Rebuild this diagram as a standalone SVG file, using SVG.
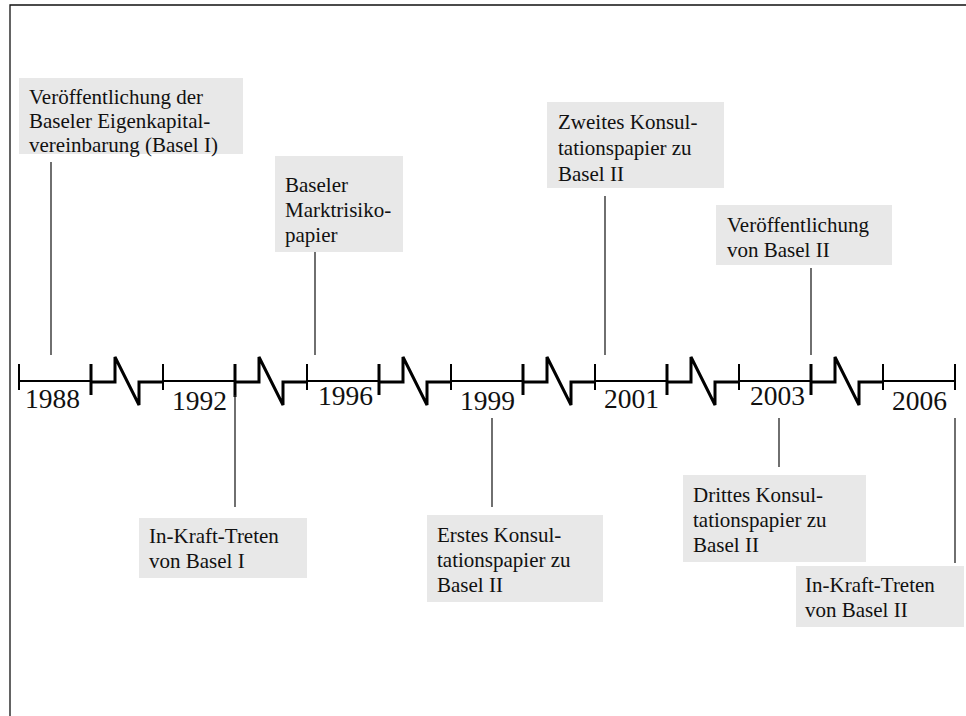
<svg xmlns="http://www.w3.org/2000/svg" width="966" height="716" viewBox="0 0 966 716">
  <defs>
    <style>
      .frame { fill: none; stroke: #111; stroke-width: 1.3; }
      .box { fill: #e8e8e8; stroke: none; }
      .lbl { font-family: "Liberation Serif", "Times New Roman", serif; font-size: 21px; fill: #111; }
      .year { font-family: "Liberation Serif", "Times New Roman", serif; font-size: 27.5px; fill: #111; }
      .axis { fill: none; stroke: #000; stroke-width: 2; }
      .tick { stroke: #000; stroke-width: 2; }
      .tickEnd { stroke: #000; stroke-width: 3; }
      .brk { fill: none; stroke: #000; stroke-width: 3; stroke-linejoin: miter; }
      .conn { stroke: #222; stroke-width: 1.3; }
    </style>
  </defs>
  <rect width="966" height="716" fill="#fff"/>
  <!-- outer frame: top and left edges only -->
  <path class="frame" d="M10 716 V5 H966"/>

  <!-- timeline axis -->
  <g id="axis">
    <g id="segments">
      <line class="axis" x1="19" y1="381" x2="91" y2="381"/>
      <line class="axis" x1="163" y1="381" x2="235" y2="381"/>
      <line class="axis" x1="307" y1="381" x2="379" y2="381"/>
      <line class="axis" x1="451" y1="381" x2="523" y2="381"/>
      <line class="axis" x1="595" y1="381" x2="667" y2="381"/>
      <line class="axis" x1="739" y1="381" x2="811" y2="381"/>
      <line class="axis" x1="883" y1="381" x2="955" y2="381"/>
    </g>
    <g id="ticks">
      <line class="tick" x1="19" y1="364" x2="19" y2="390"/>
      <line class="tick" x1="163" y1="364" x2="163" y2="390"/>
      <line class="tick" x1="307" y1="364" x2="307" y2="390"/>
      <line class="tick" x1="451" y1="364" x2="451" y2="390"/>
      <line class="tick" x1="595" y1="364" x2="595" y2="390"/>
      <line class="tick" x1="739" y1="364" x2="739" y2="390"/>
      <line class="tick" x1="883" y1="364" x2="883" y2="390"/>
      <line class="tickEnd" x1="91" y1="364" x2="91" y2="395"/>
      <line class="tickEnd" x1="235" y1="364" x2="235" y2="397"/>
      <line class="tickEnd" x1="379" y1="364" x2="379" y2="395"/>
      <line class="tickEnd" x1="523" y1="364" x2="523" y2="395"/>
      <line class="tickEnd" x1="667" y1="364" x2="667" y2="395"/>
      <line class="tickEnd" x1="811" y1="364" x2="811" y2="395"/>
      <line class="tick" x1="955" y1="364" x2="955" y2="390"/>
    </g>
    <!-- break symbols between the year segments -->
    <g id="breaks">
      <path class="brk" d="M91 382 H115 V357 L139 405 V382 H163"/>
      <path class="brk" d="M235 382 H259 V357 L283 405 V382 H307"/>
      <path class="brk" d="M379 382 H403 V357 L427 405 V382 H451"/>
      <path class="brk" d="M523 382 H547 V357 L571 405 V382 H595"/>
      <path class="brk" d="M667 382 H691 V357 L715 405 V382 H739"/>
      <path class="brk" d="M811 382 H835 V357 L859 405 V382 H883"/>
    </g>
    <g id="years">
      <text class="year" x="25" y="408">1988</text>
      <text class="year" x="172" y="410">1992</text>
      <text class="year" x="318" y="405">1996</text>
      <text class="year" x="460" y="410">1999</text>
      <text class="year" x="604" y="408">2001</text>
      <text class="year" x="750" y="405">2003</text>
      <text class="year" x="892" y="410">2006</text>
    </g>
  </g>

  <!-- connectors from events to the axis -->
  <g id="connectors">
    <line class="conn" x1="51" y1="162" x2="51" y2="355"/>
    <line class="conn" x1="315" y1="252" x2="315" y2="355"/>
    <line class="conn" x1="605" y1="196" x2="605" y2="355"/>
    <line class="conn" x1="811" y1="268" x2="811" y2="355"/>
    <line class="conn" x1="235" y1="395" x2="235" y2="507"/>
    <line class="conn" x1="492" y1="418" x2="492" y2="507"/>
    <line class="conn" x1="779" y1="418" x2="779" y2="467"/>
    <line class="conn" x1="955" y1="418" x2="955" y2="563"/>
  </g>

  <!-- event boxes above the axis -->
  <g id="ev1988">
    <rect class="box" x="19" y="78" width="224" height="76"/>
    <text class="lbl" x="29" y="104">Veröffentlichung der</text>
    <text class="lbl" x="29" y="128">Baseler Eigenkapital-</text>
    <text class="lbl" x="29" y="152">vereinbarung (Basel I)</text>
  </g>
  <g id="ev1996">
    <rect class="box" x="275" y="156" width="128" height="96"/>
    <text class="lbl" x="285" y="192">Baseler</text>
    <text class="lbl" x="285" y="217">Marktrisiko-</text>
    <text class="lbl" x="285" y="242">papier</text>
  </g>
  <g id="ev2001">
    <rect class="box" x="547" y="102" width="177" height="86"/>
    <text class="lbl" x="558" y="129">Zweites Konsul-</text>
    <text class="lbl" x="558" y="155">tationspapier zu</text>
    <text class="lbl" x="558" y="181">Basel II</text>
  </g>
  <g id="ev2003a">
    <rect class="box" x="716" y="205" width="176" height="60"/>
    <text class="lbl" x="727" y="232">Veröffentlichung</text>
    <text class="lbl" x="727" y="257">von Basel II</text>
  </g>

  <!-- event boxes below the axis -->
  <g id="ev1992">
    <rect class="box" x="139" y="518" width="168" height="60"/>
    <text class="lbl" x="149" y="543">In-Kraft-Treten</text>
    <text class="lbl" x="149" y="568">von Basel I</text>
  </g>
  <g id="ev1999">
    <rect class="box" x="427" y="515" width="176" height="87"/>
    <text class="lbl" x="437" y="542">Erstes Konsul-</text>
    <text class="lbl" x="437" y="567">tationspapier zu</text>
    <text class="lbl" x="437" y="592">Basel II</text>
  </g>
  <g id="ev2003b">
    <rect class="box" x="683" y="475" width="183" height="87"/>
    <text class="lbl" x="693" y="502">Drittes Konsul-</text>
    <text class="lbl" x="693" y="527">tationspapier zu</text>
    <text class="lbl" x="693" y="552">Basel II</text>
  </g>
  <g id="ev2006">
    <rect class="box" x="796" y="566" width="168" height="61"/>
    <text class="lbl" x="805" y="592">In-Kraft-Treten</text>
    <text class="lbl" x="805" y="617">von Basel II</text>
  </g>
</svg>
